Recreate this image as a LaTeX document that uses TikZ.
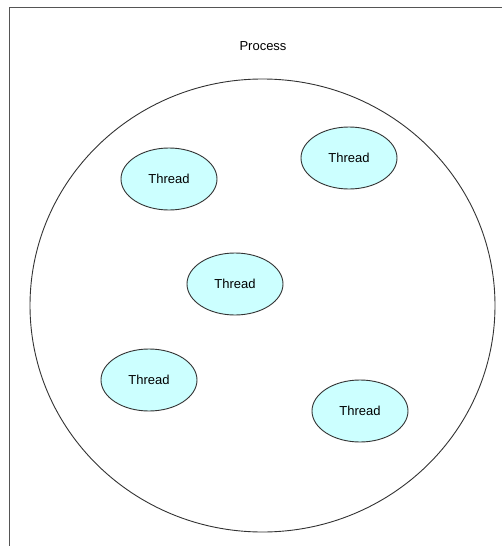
\documentclass[tikz,border=0pt]{standalone}
\usepackage{fontspec}
\setmainfont{Liberation Sans}
\usetikzlibrary{shapes.geometric}

\definecolor{threadfill}{HTML}{CCFFFF}
\definecolor{edgegray}{HTML}{333333}
\definecolor{framegray}{HTML}{555555}

\tikzset{
  thread/.style = {ellipse, draw = edgegray, fill = threadfill, line width = 0.9pt,
    minimum width = 96pt, minimum height = 62pt, inner sep = 0pt, font = \fontsize{13}{15}\selectfont},
  process/.style = {ellipse, draw = edgegray, line width = 0.9pt,
    minimum width = 465pt, minimum height = 453pt, inner sep = 0pt}
}

\begin{document}
\begin{tikzpicture} [x = 1pt, y = -1pt]
\useasboundingbox (0.0, 0.0) rectangle (502.0, 546.0);
\draw[framegray, line width = 1.2pt] (9.5, 546.0) -- (9.5, 7.5) -- (502.0, 7.5);
\node[font = \fontsize{13}{15}\selectfont] (process-label) at (263.0, 46.0){Process};
\node[process] (process) at (262.5, 305.5){};
\node[thread] (thread-1) at (169.0, 179.0){Thread};
\node[thread] (thread-2) at (349.0, 158.0){Thread};
\node[thread] (thread-3) at (235.0, 284.0){Thread};
\node[thread] (thread-4) at (149.0, 380.0){Thread};
\node[thread] (thread-5) at (360.0, 411.0){Thread};
\end{tikzpicture}
\end{document}
